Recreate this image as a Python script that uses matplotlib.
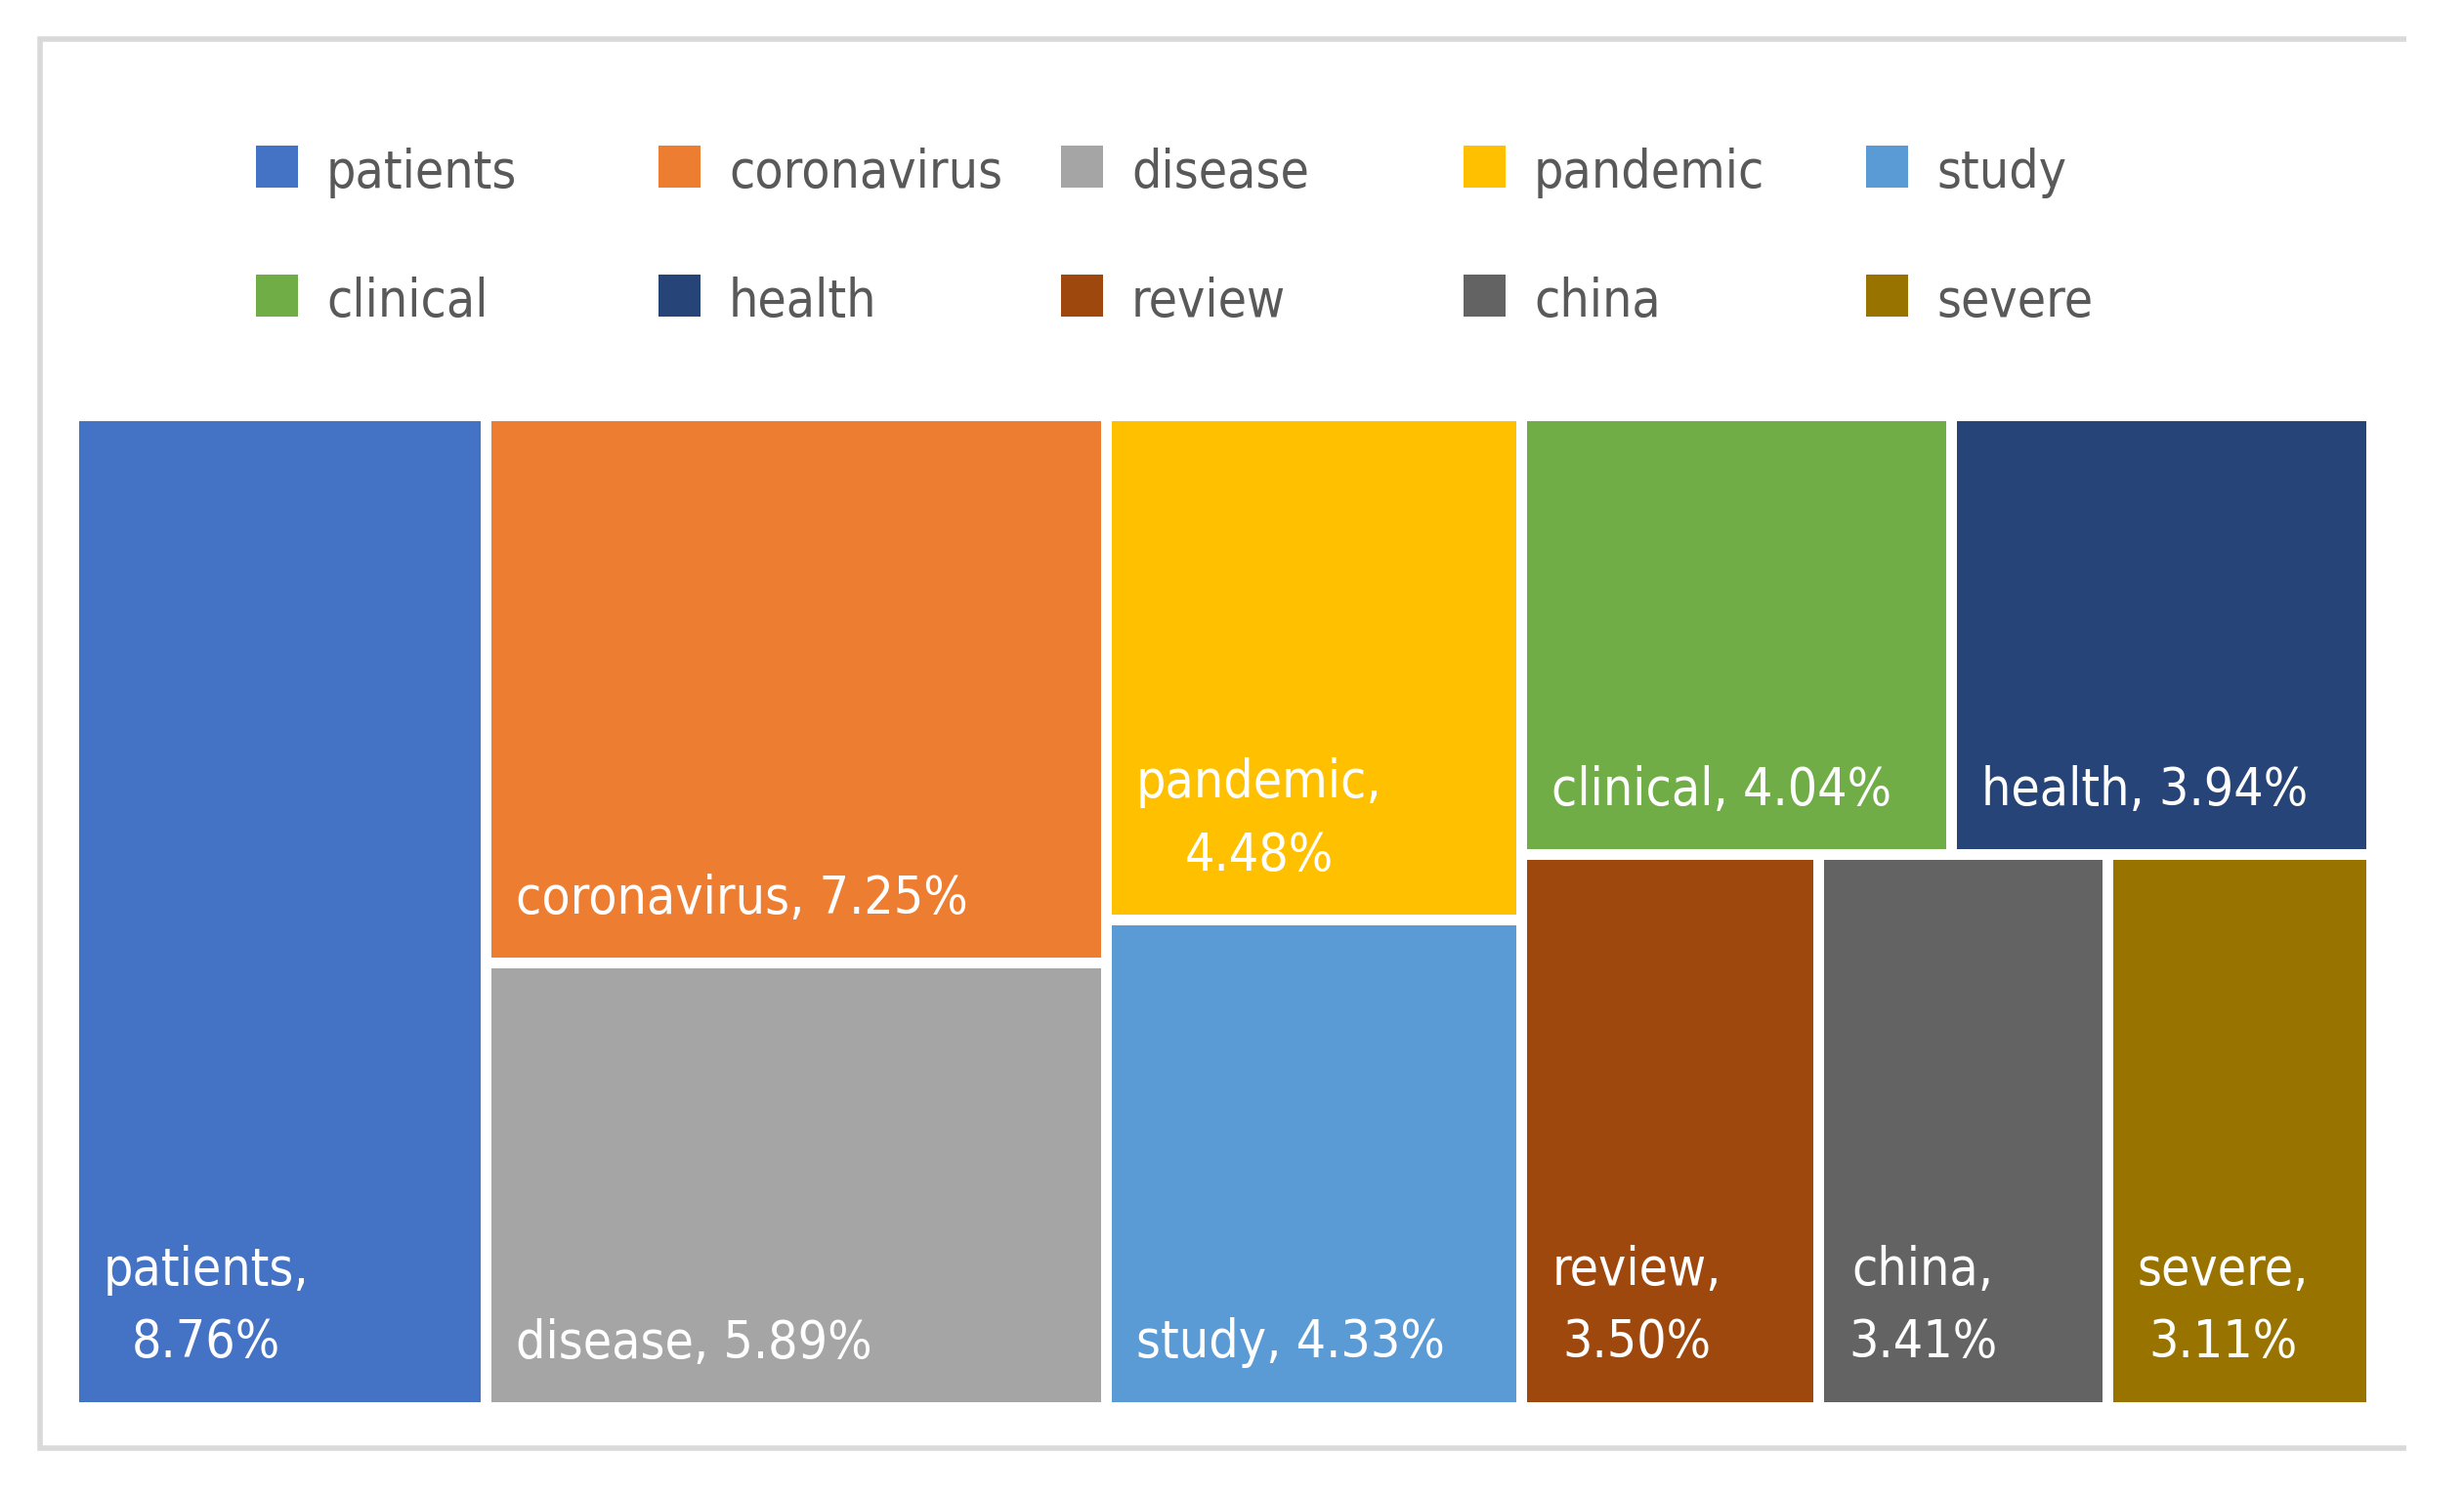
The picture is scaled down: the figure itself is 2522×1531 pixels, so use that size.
import matplotlib
matplotlib.use("Agg")
import matplotlib.pyplot as plt
from matplotlib.patches import Rectangle
from matplotlib import font_manager as fm

# ---- data ----
categories = ["patients", "coronavirus", "disease", "pandemic", "study",
              "clinical", "health", "review", "china", "severe"]
values = [8.76, 7.25, 5.89, 4.48, 4.33, 4.04, 3.94, 3.50, 3.41, 3.11]
colors = ["#4472C4", "#ED7D31", "#A5A5A5", "#FFC000", "#5B9BD5",
          "#70AD47", "#264478", "#9E480E", "#636363", "#997300"]
wrap_label = [True, False, False, True, False, False, False, True, True, True]
# treemap structure: columns -> rows -> item indices
columns = [[[0]], [[1], [2]], [[3], [4]], [[5, 6], [7, 8, 9]]]


def pick_font():
    """Prefer a narrow / condensed regular sans face if one is installed."""
    prefs = ["Liberation Sans Narrow", "DejaVu Sans", "Noto Sans", "Open Sans",
             "Roboto", "Lato", "Inter"]
    cands = []
    for f in fm.fontManager.ttflist:
        st = f.stretch
        narrow = ("Narrow" in f.name or "Condensed" in f.name or
                  (isinstance(st, str) and "condensed" in st) or
                  (isinstance(st, (int, float)) and st < 500))
        if not narrow:
            continue
        if f.style != "normal":
            continue
        wt = f.weight
        if isinstance(wt, str):
            wt = {"normal": 400, "regular": 400, "book": 400}.get(wt, 700 if "bold" in wt else 400)
        if wt != 400:
            continue
        fn = f.fname.lower()
        if any(k in fn for k in ("bold", "italic", "light", "thin", "black", "medium", "semi", "extra", "mono")):
            continue
        rank = prefs.index(f.name) if f.name in prefs else len(prefs)
        cands.append((rank, f.fname))
    if cands:
        cands.sort()
        return fm.FontProperties(fname=cands[0][1])
    return fm.FontProperties(family="DejaVu Sans")


FP = pick_font()

W, H = 2522, 1531
fig = plt.figure(figsize=(W / 100, H / 100), dpi=100)
ax = fig.add_axes([0, 0, 1, 1])
ax.set_xlim(0, W)
ax.set_ylim(H, 0)
ax.axis("off")
renderer = fig.canvas.get_renderer()

# size the font so that a reference label has the width seen in the chart
probe = ax.text(0, 0, "coronavirus, 7.25%", fontproperties=FP, fontsize=10)
pw = probe.get_window_extent(renderer).width
probe.remove()
FS = 10 * 464 / pw
probe = ax.text(0, 0, "lp", fontproperties=FP, fontsize=FS)
lp_h = probe.get_window_extent(renderer).height
probe.remove()
LINESP = 81 / lp_h

# outer chart border (cropped at right)
border_c = "#D9D9D9"
bx0, bx1, by0, by1 = 41, 2463, 40, 1482
ax.plot([bx1, bx0, bx0, bx1], [by0, by0, by1, by1], color=border_c, lw=4.0,
        solid_joinstyle="miter", solid_capstyle="butt")

# treemap region
x0, x1, y0, y1 = 75, 2427, 425, 1440
gap = 5.5
total = sum(values)
cx = x0
rects = {}
for col in columns:
    csum = sum(values[i] for row in col for i in row)
    cw = (x1 - x0) * csum / total
    cy = y0
    for row in col:
        rsum = sum(values[i] for i in row)
        rh = (y1 - y0) * rsum / csum
        rx = cx
        for i in row:
            iw = cw * values[i] / rsum
            rects[i] = (rx, cy, iw, rh)
            rx += iw
        cy += rh
    cx += cw

for i, (rx, ry, rw, rh) in rects.items():
    ax.add_patch(Rectangle((rx + gap, ry + gap), rw - 2 * gap, rh - 2 * gap,
                           facecolor=colors[i], edgecolor="none"))
    sep = ",\n" if wrap_label[i] else ", "
    txt = f"{categories[i]}{sep}{values[i]:.2f}%"
    base = ry + rh - gap - 45
    ax.text(rx + gap + 25, base, txt, color="white", fontsize=FS, fontproperties=FP,
            ha="left", va="baseline", multialignment="center", linespacing=LINESP)

# legend (2 rows x 5)
leg_x0, leg_dx = 262, 412
leg_rows = [192, 324]
sq = 43
for k, name in enumerate(categories):
    r, c = divmod(k, 5)
    lx = leg_x0 + c * leg_dx
    ly = leg_rows[r]
    ax.add_patch(Rectangle((lx, ly - sq), sq, sq, facecolor=colors[k], edgecolor="none"))
    ax.text(lx + 72, ly, name, color="#595959", fontsize=FS, fontproperties=FP,
            ha="left", va="baseline")

fig.savefig("out.png", dpi=100, facecolor="white")
